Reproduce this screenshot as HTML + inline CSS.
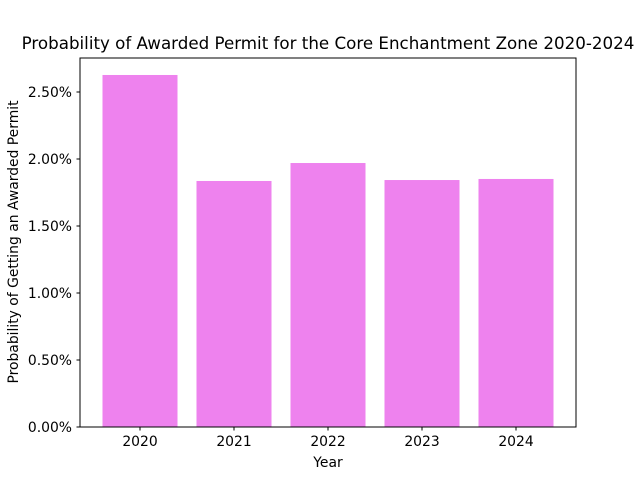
<!DOCTYPE html>
<html><head><meta charset="utf-8"><style>
body{margin:0;background:#fff;}
svg text{font-family:"DejaVu Sans","Liberation Sans",sans-serif;fill:#000;}
</style></head><body>
<svg id="chart" width="640" height="480" xmlns="http://www.w3.org/2000/svg">
<text x="328" y="49" text-anchor="middle" font-size="16.7">Probability of Awarded Permit for the Core Enchantment Zone 2020-2024</text>
<g id="bars"></g>
<g id="axes"></g>
<rect x="80" y="58" width="496" height="369" fill="none" stroke="#000" stroke-width="1"/>
<text x="328" y="467" text-anchor="middle" font-size="13.9">Year</text>
<text transform="translate(18,242) rotate(-90)" text-anchor="middle" font-size="13.9">Probability of Getting an Awarded Permit</text>
</svg>
<script>
const categories = ["2020","2021","2022","2023","2024"];
const values = [0.02627, 0.01836, 0.01970, 0.01843, 0.01851];
const yTicks = [0, 0.005, 0.01, 0.015, 0.02, 0.025];
const yTickLabels = ["0.00%","0.50%","1.00%","1.50%","2.00%","2.50%"];
const NS="http://www.w3.org/2000/svg";
const y0=427, pxPerUnit=134/0.01;
function yScale(v){return y0 - v*pxPerUnit;}
function xScale(i){return 140 + i*94;}
const barW=75;
const bars=document.getElementById('bars');
const axes=document.getElementById('axes');
values.forEach((v,i)=>{
  const r=document.createElementNS(NS,'rect');
  r.setAttribute('x',xScale(i)-barW/2);
  r.setAttribute('y',yScale(v));
  r.setAttribute('width',barW);
  r.setAttribute('height',y0-yScale(v));
  r.setAttribute('fill','#ee82ee');
  
  
  bars.appendChild(r);
});
categories.forEach((c,i)=>{
  const l=document.createElementNS(NS,'line');
  l.setAttribute('x1',xScale(i));l.setAttribute('x2',xScale(i));
  l.setAttribute('y1',427);l.setAttribute('y2',430.5);l.setAttribute('stroke','#000');
  
  
  axes.appendChild(l);
  const t=document.createElementNS(NS,'text');
  t.setAttribute('x',xScale(i));t.setAttribute('y',446);
  t.setAttribute('text-anchor','middle');t.setAttribute('font-size','13.9');
  t.textContent=c;
  
  
  axes.appendChild(t);
});
yTicks.forEach((v,i)=>{
  const l=document.createElementNS(NS,'line');
  l.setAttribute('x1',76.5);l.setAttribute('x2',80);
  l.setAttribute('y1',yScale(v));l.setAttribute('y2',yScale(v));l.setAttribute('stroke','#000');
  
  
  axes.appendChild(l);
  const t=document.createElementNS(NS,'text');
  t.setAttribute('x',72);t.setAttribute('y',yScale(v)+5);
  t.setAttribute('text-anchor','end');t.setAttribute('font-size','13.9');
  t.textContent=yTickLabels[i];
  
  
  axes.appendChild(t);
});
</script>
</body></html>
